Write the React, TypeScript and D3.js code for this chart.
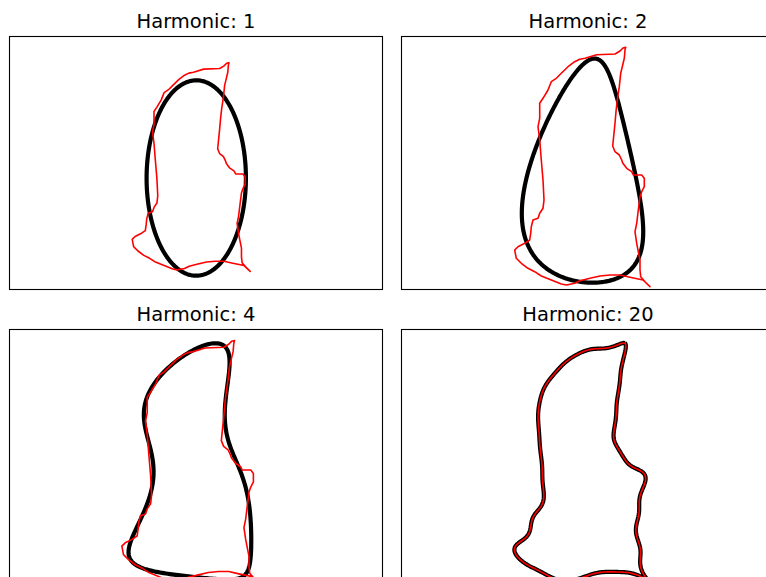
import React from 'react';
import * as d3 from 'd3';

// Raw outline (image units, y grows downward), traced clockwise from the tip
const contourX = [224.7, 224, 223.3, 221.7, 219.7, 218.3, 216.3, 215, 214, 212.3, 211.7, 214, 218.3, 220.7, 221.7, 224, 225.7, 230.7, 232.3, 240.7, 243.3, 243.3, 240.7, 239, 237.3, 235.7, 234, 235.7, 237.3, 239, 239, 239.7, 244, 249, 242, 229, 219, 209, 199, 189, 179, 173.7, 165.3, 160.3, 150.3, 140.3, 133.7, 127, 120.3, 115.3, 113.7, 117, 123.7, 128.7, 129.7, 130.3, 132, 137, 138.7, 142, 143, 142, 140.3, 138.7, 137, 138.7, 138.7, 142, 147, 150.3, 155.3, 160.3, 167, 173.7, 178.7, 184, 195.7, 214, 219, 222];
const contourY = [11.3, 14, 22.3, 29, 37.3, 50.7, 64, 75.7, 87.3, 104, 110, 115.7, 119, 124, 127, 130, 132.3, 135.7, 139, 139, 142.3, 150.7, 155.7, 160.7, 174, 187.3, 195.7, 207.3, 215.7, 224, 234, 240.7, 245.7, 250.7, 244, 241.3, 239, 239, 240, 242.3, 244.7, 247.3, 249, 248, 244, 240, 235.7, 232.3, 227.3, 222.3, 214, 210.7, 207.3, 204, 197.3, 190.7, 184, 182.3, 177.3, 172.3, 164, 144, 124, 104, 90.7, 82.3, 67.3, 62.3, 54, 45.7, 42.3, 37.3, 30.7, 25.7, 23.3, 22.3, 18.7, 18, 15, 12];

const harmonics = [1, 2, 4, 20];

const W = 766;
const H = 577;
const boxW = 374;
const boxH = 253;

const panels = [
  { left: 9, top: 36, xDomain: [-27.6, 401.3], yDomain: [-19.3, 270.9], smoothRed: false },
  { left: 401, top: 36, xDomain: [0, 374], yDomain: [0, 253], smoothRed: false },
  { left: 9, top: 329, xDomain: [2.5, 371], yDomain: [0, 249.3], smoothRed: false },
  { left: 401, top: 329, xDomain: [2.5, 371], yDomain: [0, 249.3], smoothRed: true },
];

type Coeffs = { a0: number; c0: number; c: number[][] };

function ellipticFourier(xs: number[], ys: number[], order: number): Coeffs {
  const px = [...xs, xs[0]];
  const py = [...ys, ys[0]];
  const segs: { dx: number; dy: number; dt: number; t0: number; t1: number; xm: number; ym: number }[] = [];
  let t = 0;
  for (let i = 0; i < px.length - 1; i++) {
    const dx = px[i + 1] - px[i];
    const dy = py[i + 1] - py[i];
    const dt = Math.hypot(dx, dy);
    if (dt === 0) continue;
    segs.push({ dx, dy, dt, t0: t, t1: t + dt, xm: (px[i] + px[i + 1]) / 2, ym: (py[i] + py[i + 1]) / 2 });
    t += dt;
  }
  const T = t;
  let a0 = 0;
  let c0 = 0;
  segs.forEach((s) => {
    a0 += (s.xm * s.dt) / T;
    c0 += (s.ym * s.dt) / T;
  });
  const c: number[][] = [];
  for (let n = 1; n <= order; n++) {
    const k = T / (2 * n * n * Math.PI * Math.PI);
    let a = 0, b = 0, cc = 0, d = 0;
    segs.forEach((s) => {
      const p0 = (2 * Math.PI * n * s.t0) / T;
      const p1 = (2 * Math.PI * n * s.t1) / T;
      const dc = Math.cos(p1) - Math.cos(p0);
      const ds = Math.sin(p1) - Math.sin(p0);
      a += (s.dx / s.dt) * dc;
      b += (s.dx / s.dt) * ds;
      cc += (s.dy / s.dt) * dc;
      d += (s.dy / s.dt) * ds;
    });
    c.push([k * a, k * b, k * cc, k * d]);
  }
  return { a0, c0, c };
}

function reconstruct(co: Coeffs, order: number, n = 400): [number, number][] {
  const pts: [number, number][] = [];
  for (let i = 0; i <= n; i++) {
    const s = i / n;
    let x = co.a0;
    let y = co.c0;
    for (let k = 1; k <= order; k++) {
      const [a, b, c, d] = co.c[k - 1];
      const ph = 2 * Math.PI * k * s;
      x += a * Math.cos(ph) + b * Math.sin(ph);
      y += c * Math.cos(ph) + d * Math.sin(ph);
    }
    pts.push([x, y]);
  }
  return pts;
}

export default function App() {
  const maxOrder = Math.max(...harmonics);
  const co = ellipticFourier(contourX, contourY, maxOrder);
  const raw: [number, number][] = contourX.map((x, i) => [x, contourY[i]]);

  return (
    <svg
      width={W}
      height={H}
      style={{ position: 'absolute', left: 0, top: 0, background: '#fff' }}
      fontFamily="'DejaVu Sans', sans-serif"
    >
      <rect x={0} y={0} width={W} height={H} fill="#fff" />
      {harmonics.map((h, idx) => {
        const p = panels[idx];
        const xs = d3.scaleLinear().domain(p.xDomain).range([p.left, p.left + boxW]);
        const ys = d3.scaleLinear().domain(p.yDomain).range([p.top, p.top + boxH]);
        const line = d3.line<[number, number]>().x((d) => xs(d[0])).y((d) => ys(d[1]));
        const rec = reconstruct(co, h);
        const redPath = p.smoothRed ? line(rec) : line.curve(d3.curveLinearClosed)(raw);
        const clipId = `clip-${idx}`;
        return (
          <g key={h}>
            <clipPath id={clipId}>
              <rect x={p.left} y={p.top} width={boxW} height={boxH} />
            </clipPath>
            <text
              x={p.left + boxW / 2}
              y={p.top - 8}
              textAnchor="middle"
              fontSize={19.5}
              fill="#000"
            >
              {`Harmonic: ${h}`}
            </text>
            <g clipPath={`url(#${clipId})`}>
              <path d={d3.line<[number, number]>().x((d) => xs(d[0])).y((d) => ys(d[1]))(rec) || ''} fill="none" stroke="#000" strokeWidth={4.2} strokeLinejoin="round" />
              <path d={redPath || ''} fill="none" stroke="#ff0000" strokeWidth={1.6} strokeLinejoin="round" />
            </g>
            <rect x={p.left + 0.5} y={p.top + 0.5} width={boxW - 1} height={boxH} fill="none" stroke="#000" strokeWidth={1.1} />
          </g>
        );
      })}
    </svg>
  );
}
